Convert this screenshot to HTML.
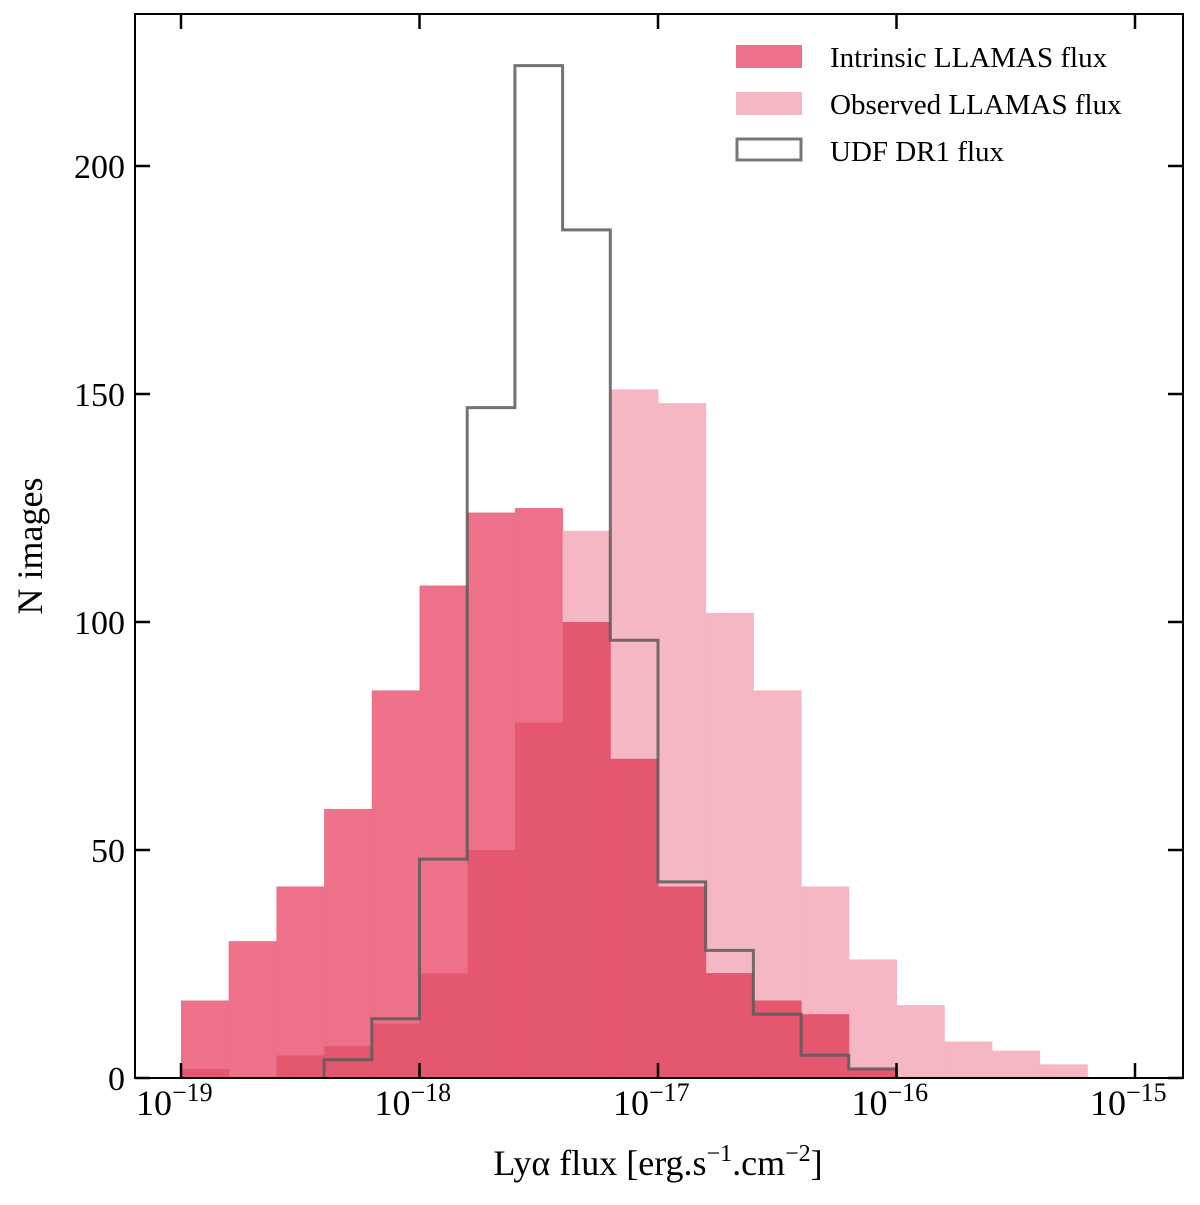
<!DOCTYPE html>
<html><head><meta charset="utf-8"><style>
body{margin:0;background:#fff}
svg text{font-family:"Liberation Serif",serif;fill:#000}
</style></head><body>
<svg width="1200" height="1200" xmlns="http://www.w3.org/2000/svg">
<g id="bars"></g>
<g id="axes"></g>
<g id="legend">
<rect x="736" y="45" width="66" height="23" fill="#ec7189"/>
<text x="830" y="67" font-size="29">Intrinsic LLAMAS flux</text>
<rect x="736" y="92" width="66" height="23" fill="#f4b7c3"/>
<text x="830" y="114" font-size="29">Observed LLAMAS flux</text>
<rect x="737" y="139" width="64" height="21" fill="none" stroke="#777" stroke-width="3"/>
<text x="830" y="161" font-size="29">UDF DR1 flux</text>
</g>
<text x="658" y="1175" font-size="36" text-anchor="middle">Lyα flux [erg.s<tspan dy="-14" font-size="24">−1</tspan><tspan dy="14">.cm</tspan><tspan dy="-14" font-size="24">−2</tspan><tspan dy="14">]</tspan></text>
<text transform="translate(42,546) rotate(-90)" font-size="36" text-anchor="middle">N images</text>
</svg>
<script>
const binStartLog = -19, binWidthLog = 0.2;
const intrinsic = [17,30,42,59,85,108,124,125,100,70,42,23,17,14,2,0,0,0,0];
const observed = [2,0,5,7,12,23,50,78,120,151,148,102,85,42,26,16,8,6,3];
const udf = [0,0,0,4,13,48,147,222,186,96,43,28,14,5,2,0,0,0,0];
const yTicks = [0,50,100,150,200];
const xTicks = [-19,-18,-17,-16,-15];
const X0=135,X1=1183,Y0=14,Y1=1078;
const xs = l => 181 + (l+19)*238.5;
const ys = v => 1078 - v*4.56;
const NS="http://www.w3.org/2000/svg";
function mk(t,a,p){const e=document.createElementNS(NS,t);for(const k in a)e.setAttribute(k,a[k]);p.appendChild(e);return e;}
const bars=document.getElementById('bars'), axes=document.getElementById('axes');
function bar(i,v,col,name){
  if(v<=0)return;
  const x0=xs(binStartLog+i*binWidthLog), x1=xs(binStartLog+(i+1)*binWidthLog);
  const r=mk('rect',{x:x0,y:ys(v),width:x1-x0+0.5,height:ys(0)-ys(v),fill:col},bars);
  
  
}
intrinsic.forEach((v,i)=>bar(i,v,'#ec7189','bar-intrinsic-'+i));
observed.forEach((v,i)=>bar(i,v,'#f4b7c3','bar-observed-'+i));
intrinsic.forEach((v,i)=>bar(i,Math.min(v,observed[i]),'#e5566f','bar-overlap-'+i));
// UDF step
let first=udf.findIndex(v=>v>0), last=udf.length-1-[...udf].reverse().findIndex(v=>v>0);
let d='M'+xs(binStartLog+first*binWidthLog)+','+ys(0);
for(let i=first;i<=last;i++){
  const x0=xs(binStartLog+i*binWidthLog), x1=xs(binStartLog+(i+1)*binWidthLog);
  d+=' L'+x0+','+ys(udf[i])+' L'+x1+','+ys(udf[i]);
}
d+=' L'+xs(binStartLog+(last+1)*binWidthLog)+','+ys(0);
const p=mk('path',{d:d,fill:'none',stroke:'rgba(90,90,90,0.85)','stroke-width':3},bars);


const fr=mk('rect',{x:X0,y:Y0,width:X1-X0,height:Y1-Y0,fill:'none',stroke:'#000','stroke-width':2},axes);


yTicks.forEach(v=>{
  const y=ys(v);
  mk('line',{x1:X0,x2:X0+15,y1:y,y2:y,stroke:'#000','stroke-width':2.5},axes);
  mk('line',{x1:X1-15,x2:X1,y1:y,y2:y,stroke:'#000','stroke-width':2.5},axes);
  const t=mk('text',{x:X0-10,y:y+12,'font-size':34,'text-anchor':'end'},axes);
  t.textContent=v;
  
  
});
xTicks.forEach(l=>{
  const x=xs(l);
  mk('line',{x1:x,x2:x,y1:Y1-15,y2:Y1,stroke:'#000','stroke-width':2.5},axes);
  mk('line',{x1:x,x2:x,y1:Y0,y2:Y0+15,stroke:'#000','stroke-width':2.5},axes);
  const t=mk('text',{x:x-45,y:1115,'font-size':36},axes);
  t.innerHTML='10<tspan dy="-14" font-size="26">−'+(-l)+'</tspan>';
  
  
});
</script>
</body></html>
